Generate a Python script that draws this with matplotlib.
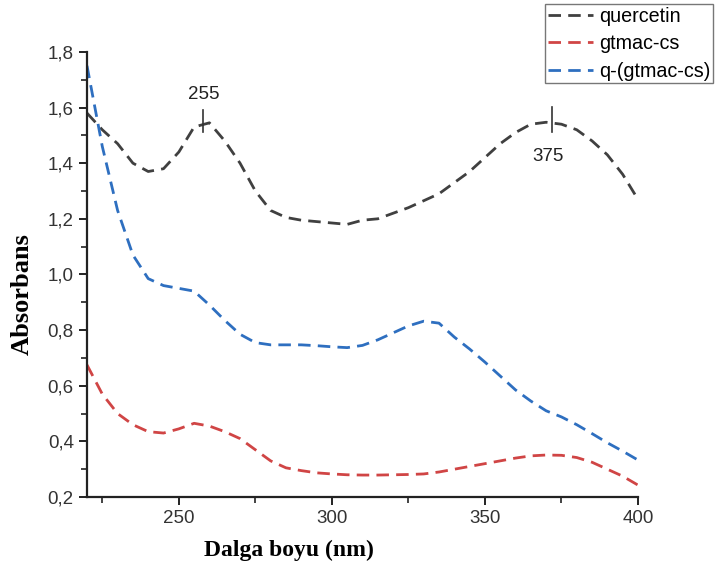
import matplotlib
matplotlib.use("Agg")
import matplotlib.pyplot as plt
from matplotlib.ticker import MultipleLocator, FuncFormatter

wavelength = [220, 225, 230, 235, 240, 245, 250, 255, 260, 265, 270, 275, 280, 285, 290,
              295, 300, 305, 310, 315, 320, 325, 330, 335, 340, 345, 350, 355, 360, 365,
              370, 375, 380, 385, 390, 395, 400]
quercetin = [1.58, 1.52, 1.47, 1.40, 1.37, 1.38, 1.44, 1.53, 1.545, 1.48, 1.40, 1.30, 1.23,
             1.205, 1.195, 1.19, 1.185, 1.18, 1.195, 1.20, 1.22, 1.24, 1.265, 1.29, 1.33,
             1.37, 1.42, 1.47, 1.51, 1.54, 1.547, 1.54, 1.52, 1.48, 1.43, 1.36, 1.27]
gtmac_cs = [0.675, 0.57, 0.50, 0.46, 0.435, 0.43, 0.445, 0.465, 0.455, 0.435, 0.41, 0.37,
            0.33, 0.305, 0.295, 0.287, 0.283, 0.28, 0.279, 0.279, 0.28, 0.281, 0.283, 0.29,
            0.30, 0.31, 0.32, 0.33, 0.34, 0.348, 0.351, 0.35, 0.342, 0.325, 0.30, 0.275, 0.243]
q_gtmac_cs = [1.75, 1.46, 1.23, 1.07, 0.985, 0.96, 0.95, 0.94, 0.89, 0.835, 0.785, 0.755,
              0.747, 0.747, 0.747, 0.744, 0.74, 0.737, 0.745, 0.765, 0.79, 0.815, 0.832,
              0.825, 0.775, 0.732, 0.685, 0.635, 0.585, 0.545, 0.51, 0.488, 0.46, 0.428,
              0.395, 0.365, 0.333]
series_labels = ["quercetin", "gtmac-cs", "q-(gtmac-cs)"]
series_colors = ["#404040", "#d04545", "#2e6fc0"]
peak_positions = [258, 372]
peak_labels = ["255", "375"]

plt.rcParams['font.family'] = ['Liberation Sans', 'DejaVu Sans']

fig = plt.figure(figsize=(7.16, 5.70), dpi=100)
ax = fig.add_axes([0.1215, 0.128, 0.7695, 0.781])

for ys, lab, col in zip([quercetin, gtmac_cs, q_gtmac_cs], series_labels, series_colors):
    ax.plot(wavelength, ys, color=col, lw=2.0, dashes=(4.5, 2.6), label=lab)

# peak markers
ax.plot([peak_positions[0]] * 2, [1.513, 1.592], color="#333333", lw=1.2)
ax.text(peak_positions[0], 1.646, peak_labels[0], ha="center", va="center", fontsize=13.5, color="#222222")
ax.plot([peak_positions[1]] * 2, [1.513, 1.603], color="#333333", lw=1.2)
ax.text(peak_positions[1] - 1.5, 1.423, peak_labels[1], ha="center", va="center", fontsize=13.5, color="#222222")

ax.set_xlim(220, 400)
ax.set_ylim(0.2, 1.8)
ax.xaxis.set_major_locator(MultipleLocator(50))
ax.xaxis.set_minor_locator(MultipleLocator(25))
ax.yaxis.set_major_locator(MultipleLocator(0.2))
ax.yaxis.set_minor_locator(MultipleLocator(0.1))
ax.yaxis.set_major_formatter(FuncFormatter(lambda v, p: f"{v:.1f}".replace(".", ",")))

for s in ["top", "right"]:
    ax.spines[s].set_visible(False)
for s in ["left", "bottom"]:
    ax.spines[s].set_linewidth(1.6)
    ax.spines[s].set_color("#222222")
ax.tick_params(which="major", length=6, width=1.4, labelsize=13.5, colors="#222222",
               labelcolor="#333333")
ax.tick_params(which="minor", length=4, width=1.2, colors="#222222")

ax.set_xlabel("Dalga boyu (nm)", fontsize=17, fontweight="bold",
              family=["Liberation Serif", "DejaVu Serif"])
ax.set_ylabel("Absorbans", fontsize=19, fontweight="bold",
              family=["Liberation Serif", "DejaVu Serif"])
ax.xaxis.set_label_coords(0.366, -0.095)
ax.yaxis.set_label_coords(-0.097, 0.456)

leg = fig.legend(loc="upper left", bbox_to_anchor=(0.761, 0.993), borderaxespad=0,
                 fontsize=14.2, frameon=True, fancybox=False, handlelength=2.3,
                 handletextpad=0.3, labelspacing=0.42, borderpad=0.15)
leg.get_frame().set_edgecolor("#555555")
leg.get_frame().set_linewidth(1.0)

fig.savefig("out.png", dpi=100)
